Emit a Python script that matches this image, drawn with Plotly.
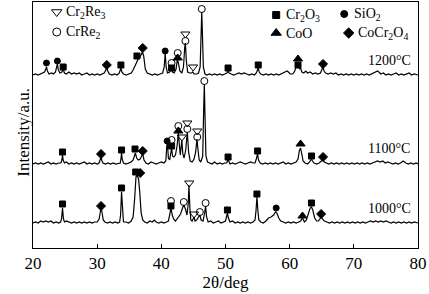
import plotly.graph_objects as go

# ---- XRD patterns: (2theta, intensity above baseline, a.u.) ----
xrd_1000 = [
    (20.0, 0), (20.4, 1), (20.8, 0), (21.2, 2), (21.6, 1), (22.0, 2), (22.4, 1), (22.8, 2), (23.2, 0), (23.6, 1), (24.0, 0), (24.3, 1),
    (24.45, 4), (24.6, 15), (24.75, 4), (24.9, 1), (25.2, 2), (25.6, 1), (26.0, 0), (26.4, 1), (26.8, 0), (27.2, 1), (27.6, 0), (28.0, 1),
    (28.4, 0), (28.8, 1), (29.2, 0), (29.6, 1), (30.0, 1), (30.3, 4), (30.5, 12), (30.6, 15), (30.75, 11), (30.95, 3), (31.2, 1), (31.6, 0),
    (32.0, 1), (32.4, 0), (32.8, 1), (33.2, 0), (33.5, 1), (33.65, 8), (33.8, 31), (33.95, 8), (34.1, 1), (34.5, 1), (34.9, 0), (35.3, 2),
    (35.6, 6), (35.85, 25), (36.05, 46), (36.2, 48), (36.45, 44), (36.65, 30), (36.85, 10), (37.1, 3), (37.4, 1), (37.8, 0), (38.2, 2),
    (38.6, 1), (38.9, 3), (39.2, 1), (39.6, 0), (40.0, 1), (40.4, 0), (40.8, 1), (41.1, 2), (41.3, 8), (41.5, 15), (41.7, 8), (41.9, 4),
    (42.2, 2), (42.6, 5), (43.0, 9), (43.3, 15), (43.5, 18), (43.75, 14), (44.0, 8), (44.2, 20), (44.3, 38), (44.45, 15), (44.6, 3),
    (44.8, 2), (45.0, 4), (45.1, 6), (45.25, 2), (45.5, 3), (45.8, 6), (46.0, 8), (46.2, 3), (46.5, 2), (46.75, 10), (46.9, 17), (47.05, 6),
    (47.3, 1), (47.7, 2), (48.1, 0), (48.5, 1), (48.9, 2), (49.3, 0), (49.7, 1), (50.0, 2), (50.15, 6), (50.3, 10), (50.45, 5), (50.7, 1),
    (51.1, 2), (51.5, 0), (51.9, 1), (52.3, 0), (52.7, 1), (53.1, 0), (53.5, 1), (53.9, 0), (54.3, 1), (54.6, 3), (54.75, 12), (54.9, 26),
    (55.05, 12), (55.2, 3), (55.5, 1), (55.9, 0), (56.3, 2), (56.7, 5), (57.1, 6), (57.5, 8), (57.8, 11), (58.0, 10), (58.3, 5), (58.6, 2),
    (59.0, 1), (59.4, 0), (59.8, 1), (60.2, 0), (60.6, 1), (61.0, 0), (61.4, 1), (61.7, 2), (62.0, 5), (62.3, 1), (62.6, 3), (62.9, 9),
    (63.2, 15), (63.4, 16), (63.6, 13), (63.9, 5), (64.2, 2), (64.5, 2), (64.75, 5), (64.9, 6), (65.1, 4), (65.4, 2), (65.8, 1), (66.2, 0),
    (66.6, 1), (67.0, 0), (67.4, 1), (67.8, 0), (68.2, 1), (68.6, 0), (69.0, 1), (69.4, 0), (69.8, 1), (70.2, 0), (70.6, 1), (71.0, 0),
    (71.4, 1), (71.8, 0), (72.2, 1), (72.6, 2), (73.0, 1), (73.4, 2), (73.8, 1), (74.2, 2), (74.6, 1), (75.0, 2), (75.4, 1), (75.8, 0),
    (76.2, 1), (76.6, 0), (77.0, 1), (77.4, 0), (77.8, 1), (78.2, 0), (78.6, 1), (79.0, 0), (79.4, 1), (80.0, 0),
]

xrd_1100 = [
    (20.0, 0), (20.4, 1), (20.8, 0), (21.2, 1), (21.6, 0), (22.0, 1), (22.4, 2), (22.8, 0), (23.2, 1), (23.6, 0), (24.0, 1), (24.35, 1),
    (24.5, 4), (24.6, 9), (24.7, 4), (24.9, 1), (25.2, 2), (25.6, 0), (26.0, 1), (26.4, 0), (26.8, 1), (27.2, 0), (27.6, 1), (28.0, 2),
    (28.4, 0), (28.8, 1), (29.2, 0), (29.6, 1), (30.0, 0), (30.3, 1), (30.45, 4), (30.6, 7), (30.75, 3), (30.9, 1), (31.3, 0), (31.7, 1),
    (32.1, 0), (32.5, 1), (32.9, 0), (33.3, 1), (33.6, 1), (33.7, 5), (33.8, 11), (33.9, 5), (34.1, 1), (34.5, 0), (34.9, 1), (35.3, 2),
    (35.6, 4), (35.8, 9), (35.95, 11), (36.15, 6), (36.4, 4), (36.7, 5), (36.95, 9), (37.1, 10), (37.3, 4), (37.6, 1), (38.0, 0),
    (38.4, 2), (38.8, 1), (39.2, 0), (39.6, 1), (40.0, 2), (40.4, 1), (40.7, 3), (40.85, 18), (40.95, 21), (41.1, 6), (41.3, 4), (41.5, 12),
    (41.6, 16), (41.75, 8), (41.95, 7), (42.2, 9), (42.45, 18), (42.65, 31), (42.8, 14), (42.95, 9), (43.1, 18), (43.2, 24), (43.35, 10),
    (43.55, 6), (43.8, 14), (44.0, 30), (44.05, 32), (44.25, 12), (44.5, 3), (44.8, 2), (45.1, 5), (45.35, 12), (45.55, 25), (45.7, 15),
    (45.9, 4), (46.15, 2), (46.45, 8), (46.6, 55), (46.7, 80), (46.8, 50), (46.95, 8), (47.2, 2), (47.5, 1), (47.9, 0), (48.3, 2), (48.7, 0),
    (49.1, 1), (49.5, 0), (49.9, 1), (50.2, 1), (50.3, 3), (50.4, 5), (50.5, 3), (50.7, 0), (51.1, 1), (51.5, 0), (51.9, 1), (52.3, 2),
    (52.7, 1), (53.1, 0), (53.5, 1), (53.9, 2), (54.3, 1), (54.6, 1), (54.8, 5), (55.0, 10), (55.15, 4), (55.4, 1), (55.8, 0), (56.2, 1),
    (56.6, 0), (57.0, 1), (57.4, 0), (57.8, 1), (58.2, 0), (58.6, 1), (59.0, 2), (59.4, 0), (59.8, 1), (60.2, 0), (60.6, 1), (61.0, 2),
    (61.3, 5), (61.5, 13), (61.7, 16), (61.9, 10), (62.1, 3), (62.4, 1), (62.8, 0), (63.1, 2), (63.3, 4), (63.4, 5), (63.55, 3), (63.8, 1),
    (64.2, 0), (64.6, 1), (64.95, 3), (65.2, 4), (65.4, 2), (65.7, 1), (66.1, 0), (66.5, 1), (66.9, 0), (67.3, 1), (67.7, 0), (68.1, 1),
    (68.5, 0), (68.9, 1), (69.3, 0), (69.7, 1), (70.1, 0), (70.5, 1), (70.9, 0), (71.3, 1), (71.7, 0), (72.1, 1), (72.5, 0), (72.9, 1),
    (73.3, 2), (73.7, 3), (74.1, 2), (74.5, 3), (74.9, 1), (75.3, 2), (75.7, 1), (76.1, 0), (76.5, 1), (76.9, 0), (77.3, 1), (77.7, 3),
    (78.1, 1), (78.5, 0), (78.9, 1), (79.3, 0), (79.7, 1), (80.0, 0),
]

xrd_1200 = [
    (20.0, 0), (20.4, 1), (20.8, 0), (21.2, 1), (21.5, 2), (21.8, 3), (22.0, 6), (22.1, 8), (22.25, 4), (22.5, 1), (22.9, 2), (23.2, 1),
    (23.5, 3), (23.7, 9), (23.8, 11), (23.95, 5), (24.2, 2), (24.5, 3), (24.7, 6), (24.9, 2), (25.2, 1), (25.6, 3), (26.0, 1), (26.4, 2),
    (26.8, 1), (27.2, 2), (27.6, 0), (28.0, 1), (28.4, 2), (28.8, 0), (29.2, 1), (29.6, 0), (30.0, 1), (30.4, 0), (30.8, 1), (31.1, 2),
    (31.35, 5), (31.5, 8), (31.65, 4), (31.9, 1), (32.3, 0), (32.7, 1), (33.1, 0), (33.45, 2), (33.6, 5), (33.7, 7), (33.85, 3), (34.1, 1),
    (34.5, 0), (34.9, 1), (35.3, 2), (35.6, 5), (35.9, 9), (36.2, 14), (36.4, 16), (36.6, 17), (36.85, 21), (37.05, 23), (37.25, 19),
    (37.5, 6), (37.8, 2), (38.2, 1), (38.6, 0), (39.0, 1), (39.4, 0), (39.8, 1), (40.2, 2), (40.45, 8), (40.6, 22), (40.75, 8), (40.95, 2),
    (41.3, 3), (41.5, 5), (41.6, 7), (41.75, 3), (42.0, 2), (42.3, 6), (42.5, 16), (42.65, 12), (42.9, 4), (43.2, 2), (43.45, 8), (43.65, 28),
    (43.75, 32), (43.9, 14), (44.1, 3), (44.4, 2), (44.7, 2), (44.9, 3), (45.1, 1), (45.5, 1), (45.8, 2), (46.05, 8), (46.2, 40), (46.3, 63),
    (46.4, 42), (46.55, 8), (46.8, 1), (47.1, 0), (47.5, 1), (47.9, 0), (48.3, 1), (48.7, 0), (49.1, 1), (49.5, 0), (49.9, 1), (50.2, 2),
    (50.4, 4), (50.55, 2), (50.9, 1), (51.3, 0), (51.7, 1), (52.1, 2), (52.5, 1), (52.9, 2), (53.3, 1), (53.7, 0), (54.1, 1), (54.5, 0),
    (54.8, 2), (54.95, 5), (55.1, 7), (55.25, 3), (55.5, 1), (55.9, 0), (56.3, 1), (56.7, 0), (57.1, 1), (57.5, 0), (57.9, 1), (58.3, 0),
    (58.7, 1), (59.1, 2), (59.4, 3), (59.6, 4), (59.8, 3), (60.1, 1), (60.5, 1), (60.8, 4), (61.0, 9), (61.2, 13), (61.35, 11), (61.55, 6),
    (61.7, 7), (61.9, 3), (62.2, 2), (62.5, 4), (62.8, 2), (63.2, 3), (63.6, 1), (64.0, 2), (64.4, 1), (64.8, 2), (65.05, 6), (65.2, 8),
    (65.35, 4), (65.6, 2), (66.0, 1), (66.4, 2), (66.8, 1), (67.2, 2), (67.6, 0), (68.0, 1), (68.4, 0), (68.8, 1), (69.2, 0), (69.6, 1),
    (70.0, 0), (70.4, 1), (70.8, 0), (71.2, 1), (71.6, 0), (72.0, 1), (72.4, 0), (72.8, 1), (73.2, 2), (73.5, 3), (73.7, 4), (73.9, 3),
    (74.2, 1), (74.6, 2), (75.0, 0), (75.4, 1), (75.8, 0), (76.2, 1), (76.6, 2), (77.0, 0), (77.4, 1), (77.8, 0), (78.2, 1), (78.6, 2),
    (79.0, 0), (79.4, 1), (80.0, 0),
]

# ---- phase markers: (phase, 2theta, height above baseline) ----
marks_1000 = [
    ("Cr2O3", 24.6, 19), ("CoCr2O4", 30.6, 17), ("Cr2O3", 33.8, 35), ("Cr2O3", 36.0, 51), ("CoCr2O4", 36.7, 50),
    ("Cr2O3", 41.5, 17), ("CrRe2", 41.5, 22), ("CrRe2", 43.5, 21), ("Cr2Re3", 44.35, 40), ("Cr2Re3", 45.1, 9),
    ("CrRe2", 46.0, 11), ("CrRe2", 46.9, 20), ("Cr2O3", 50.3, 13), ("Cr2O3", 54.9, 29), ("SiO2", 57.9, 15),
    ("CoO", 62.0, 7), ("Cr2O3", 63.4, 20), ("CoCr2O4", 64.9, 9),
]
marks_1100 = [
    ("Cr2O3", 24.6, 12), ("CoCr2O4", 30.6, 10), ("Cr2O3", 33.8, 14), ("Cr2O3", 35.9, 15), ("CoCr2O4", 37.1, 13),
    ("SiO2", 40.9, 23), ("Cr2O3", 41.6, 18), ("CrRe2", 41.6, 24), ("CoO", 42.65, 33), ("CrRe2", 42.65, 38),
    ("Cr2Re3", 43.2, 27), ("CrRe2", 44.05, 35), ("Cr2Re3", 44.05, 41), ("CrRe2", 45.6, 27), ("Cr2Re3", 45.6, 33),
    ("CrRe2", 46.7, 83), ("Cr2O3", 50.4, 7), ("Cr2O3", 55.0, 13), ("CoO", 61.7, 20), ("Cr2O3", 63.4, 8),
    ("CoCr2O4", 65.2, 7),
]
marks_1200 = [
    ("SiO2", 22.1, 12), ("SiO2", 23.8, 14), ("Cr2O3", 24.7, 8), ("CoCr2O4", 31.5, 10), ("Cr2O3", 33.7, 10),
    ("Cr2O3", 36.2, 19), ("CoCr2O4", 37.1, 27), ("SiO2", 40.6, 24), ("Cr2O3", 41.6, 7), ("CrRe2", 41.6, 12),
    ("CoO", 42.55, 17), ("CrRe2", 42.55, 22), ("CrRe2", 43.75, 34), ("Cr2Re3", 43.75, 41), ("Cr2Re3", 44.95, 8),
    ("CrRe2", 46.3, 66), ("Cr2O3", 50.4, 7), ("Cr2O3", 55.1, 10), ("Cr2O3", 61.3, 10), ("CoO", 61.3, 16),
    ("CoCr2O4", 65.2, 11),
]

temps = ["1000°C", "1100°C", "1200°C"]
patterns = [xrd_1000, xrd_1100, xrd_1200]
markers = [marks_1000, marks_1100, marks_1200]
offsets = [25, 84, 173]   # vertical stacking of the patterns

symbols = {
    "Cr2Re3": ("triangle-down-open", 8),
    "CrRe2": ("circle-open", 7),
    "Cr2O3": ("square", 6),
    "SiO2": ("circle", 6),
    "CoO": ("triangle-up", 8),
    "CoCr2O4": ("diamond", 7),
}
phase_labels = {
    "Cr2Re3": "Cr<sub>2</sub>Re<sub>3</sub>",
    "CrRe2": "CrRe<sub>2</sub>",
    "Cr2O3": "Cr<sub>2</sub>O<sub>3</sub>",
    "SiO2": "SiO<sub>2</sub>",
    "CoO": "CoO",
    "CoCr2O4": "CoCr<sub>2</sub>O<sub>4</sub>",
}

FONT = "Liberation Serif"
fig = go.Figure()

for temp, pat, off in zip(temps, patterns, offsets):
    fig.add_trace(go.Scatter(
        x=[p[0] for p in pat], y=[p[1] + off for p in pat],
        mode="lines", line=dict(color="black", width=1.2), name=temp, showlegend=False))

for marks, off in zip(markers, offsets):
    for phase, (sym, size) in symbols.items():
        pts = [m for m in marks if m[0] == phase]
        if not pts:
            continue
        fig.add_trace(go.Scatter(
            x=[m[1] for m in pts], y=[m[2] + off for m in pts], mode="markers",
            marker=dict(symbol=sym, size=size, color="black", line=dict(color="black", width=1)),
            showlegend=False))

# hand-placed legend (symbol position in data units, text to the right)
legend_pos = {
    "Cr2Re3": (23.7, 236), "CrRe2": (23.7, 216),
    "Cr2O3": (57.9, 233), "SiO2": (68.5, 234),
    "CoO": (57.9, 215), "CoCr2O4": (69.2, 215),
}
for phase, (lx, ly) in legend_pos.items():
    sym, size = symbols[phase]
    fig.add_trace(go.Scatter(
        x=[lx], y=[ly], mode="markers",
        marker=dict(symbol=sym, size=size + 1, color="black", line=dict(color="black", width=1)),
        showlegend=False))
    fig.add_annotation(x=lx + 1.2, y=ly, text=phase_labels[phase], showarrow=False,
                       xanchor="left", yanchor="middle", font=dict(family=FONT, size=14, color="black"))

label_y = [40, 100, 188]
for temp, ly in zip(temps, label_y):
    fig.add_annotation(x=75.5, y=ly, text=temp, showarrow=False,
                       font=dict(family=FONT, size=14, color="black"))

fig.add_annotation(xref="paper", yref="paper", x=-0.055, y=0.47, text="Intensity/a.u.",
                   textangle=-90, showarrow=False, font=dict(family=FONT, size=17, color="black"))

fig.update_layout(
    width=429, height=294,
    margin=dict(l=33, r=11, t=2, b=46),
    paper_bgcolor="white", plot_bgcolor="white",
    font=dict(family=FONT, size=17, color="black"),
    xaxis=dict(
        range=[20, 80], tickvals=[20, 30, 40, 50, 60, 70, 80], ticks="inside", ticklen=4,
        tickcolor="black", showline=True, linecolor="black", linewidth=1, mirror=True,
        showgrid=False, zeroline=False, automargin=False,
        title=dict(text="2θ/deg", standoff=0, font=dict(family=FONT, size=17)),
    ),
    yaxis=dict(
        range=[0, 246], showticklabels=False, ticks="", showline=True, linecolor="black",
        linewidth=1, mirror=True, showgrid=False, zeroline=False, automargin=False,
    ),
)

# the page body has a default 8px margin; drop it so the figure sits at the corner
fig.write_html("out.html", config={"displayModeBar": False},
               post_script="document.body.style.margin='0';")
